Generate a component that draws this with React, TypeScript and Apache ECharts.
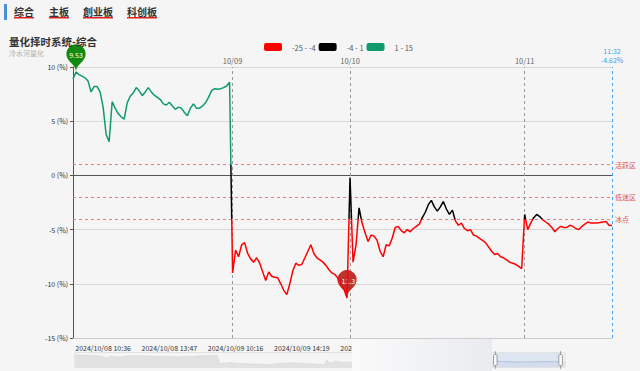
import React, { useEffect, useRef } from "react";
import * as echarts from "echarts";

// ---- data ----
const day1 = [8.9, 9.53, 9.3, 9.15, 9.0, 8.7, 7.7, 8.2, 8.2, 7.7, 6.3, 3.8, 3.1, 6.8, 6.2, 5.7, 5.4, 5.2, 6.7, 7.3, 7.6, 8.1, 7.8, 7.35, 7.7, 8.1, 7.7, 7.4, 7.2, 7.0, 6.6, 6.5, 6.75, 6.4, 6.1, 6.3, 6.2, 5.8, 5.5, 6.2, 6.6, 6.2, 6.2, 6.4, 6.7, 7.2, 7.8, 8.0, 7.95, 8.0, 8.1, 8.25, 8.6];
const day2 = [-9.0, -6.9, -7.5, -6.4, -6.2, -7.2, -7.7, -8.0, -7.6, -8.1, -8.9, -9.7, -8.9, -9.3, -9.4, -9.45, -10.0, -10.6, -11.0, -10.0, -8.8, -8.1, -8.3, -8.2, -7.6, -7.0, -6.4, -7.2, -7.6, -7.8, -8.0, -8.3, -8.7, -9.0, -9.15, -9.5, -10.0, -10.5, -11.3];
const day3 = [-0.2, -8.0, -6.4, -3.0, -4.4, -5.3, -6.1, -5.5, -5.6, -6.0, -7.0, -7.5, -6.4, -6.5, -5.8, -4.8, -4.7, -5.1, -5.3, -5.0, -5.2, -4.9, -4.7, -4.5, -3.9, -3.4, -2.7, -2.3, -2.9, -3.3, -2.9, -2.4, -3.1, -3.6, -3.2, -4.2, -4.6, -4.4, -4.9, -5.1, -5.0, -5.5, -5.6, -5.8, -6.0, -6.2, -6.6, -7.0, -7.3, -7.2, -7.5, -7.6, -7.8, -8.0, -8.1, -8.2, -8.4, -8.6];
const day4 = [-3.6, -5.0, -4.4, -3.9, -3.6, -3.8, -4.1, -4.3, -4.5, -4.8, -5.2, -4.9, -4.7, -4.8, -4.8, -4.6, -4.7, -4.9, -5.0, -4.7, -4.5, -4.3, -4.4, -4.4, -4.4, -4.35, -4.3, -4.25, -4.6, -4.62];

const dayDates = ["2024/10/08", "2024/10/09", "2024/10/10", "2024/10/11"];
const dayLabels = ["10/08", "10/09", "10/10", "10/11"];
const daySpans = [240, 240, 240, 122];
const dayLunch = [true, true, true, false];
const dayValues = [day1, day2, day3, day4];

const tabs = ["综合", "主板", "創业板", "科创板"];
const yTicks = [-15, -10, -5, 0, 5, 10];
const xTickLabels: Record<number, string> = {
  10: "2024/10/08 10:36",
  32: "2024/10/08 13:47",
  54: "2024/10/09 10:16",
  76: "2024/10/09 14:19",
};
const zones = [
  { value: 1, name: "活跃区" },
  { value: -2, name: "低迷区" },
  { value: -4, name: "冰点" },
];
const pieces = [
  { gte: -25, lt: -4, label: "-25 - -4", color: "#ff0000" },
  { gte: -4, lt: 1, label: "-4 - 1", color: "#000000" },
  { gte: 1, lte: 15, label: "1 - 15", color: "#0e9a6a" },
];

function pad(n: number) {
  return n < 10 ? "0" + n : "" + n;
}

const categories: string[] = [];
const values: number[] = [];
const dayStartIdx: number[] = [];
dayValues.forEach((vals, d) => {
  dayStartIdx.push(categories.length);
  vals.forEach((v, k) => {
    const off = Math.round((k * daySpans[d]) / (vals.length - 1));
    let t = 9 * 60 + 30 + off;
    if (dayLunch[d] && off > 120) t = 13 * 60 + (off - 120);
    categories.push(`${dayDates[d]} ${pad(Math.floor(t / 60))}:${pad(t % 60)}`);
    values.push(v);
  });
});
const lastIdx = values.length - 1;
const lastTime = categories[lastIdx].split(" ")[1];
const lastVal = values[lastIdx];

const FONT = "'Noto Sans CJK SC', 'Noto Sans', sans-serif";

export default function App() {
  const ref = useRef<HTMLDivElement>(null);
  useEffect(() => {
    document.body.style.margin = "0";
    const chart = echarts.init(ref.current!, undefined, { renderer: "svg" });

    const blueLine = { color: "#4aa3f5", type: [3, 3], width: 1 };
    const markLineData: any[] = [
      ...zones.map((z) => ({
        yAxis: z.value,
        lineStyle: { color: "#e57d7d", type: [3, 3], width: 1 },
        label: { show: true, position: "end", formatter: z.name, color: "#d9534f", fontSize: 7, distance: 3 },
      })),
      {
        yAxis: 0,
        lineStyle: { color: "#555", type: "solid", width: 1 },
        label: { show: false },
      },
      ...dayStartIdx.slice(1).map((idx, i) => ({
        xAxis: categories[idx],
        lineStyle: { color: "#999", type: [3, 3], width: 1 },
        label: { show: true, position: "end", formatter: dayLabels[i + 1], color: "#666", fontSize: 7.5, distance: 3 },
      })),
      {
        xAxis: categories[lastIdx],
        lineStyle: blueLine,
        label: { show: true, position: "end", formatter: lastTime, color: "#3d9cf0", fontSize: 7, lineHeight: 8, distance: 12 },
      },
      {
        xAxis: categories[lastIdx],
        lineStyle: blueLine,
        label: { show: true, position: "end", formatter: `${lastVal.toFixed(2)}%`, color: "#3d9cf0", fontSize: 7, lineHeight: 8, distance: 3 },
      },
    ];

    const tabGraphics: any[] = [];
    const tabX = [14, 49, 83, 127];
    tabs.forEach((t, i) => {
      tabGraphics.push({
        type: "text",
        left: tabX[i],
        top: 6,
        style: { text: t, fill: "#333", font: `bold 10px ${FONT}` },
      });
      tabGraphics.push({
        type: "rect",
        shape: { x: tabX[i], y: 17, width: t.length * 10, height: 1.5 },
        style: { fill: "#e02020" },
      });
    });

    chart.setOption({
      animation: false,
      backgroundColor: "#f5f5f5",
      textStyle: { fontFamily: FONT },
      title: {
        text: "量化择时系统-综合",
        subtext: "冷水河量化",
        left: 4,
        top: 31,
        itemGap: 3,
        textStyle: { fontSize: 10.5, fontWeight: "bold", color: "#333", fontFamily: FONT },
        subtextStyle: { fontSize: 7, color: "#b0b0b0", fontFamily: FONT },
      },
      graphic: [
        { type: "rect", shape: { x: 4, y: 4, width: 3, height: 16 }, style: { fill: "#4a8fd8" } },
        ...tabGraphics,
        {
          type: "rect",
          z: 100,
          shape: { x: 352, y: 339, width: 140, height: 32 },
          style: {
            fill: new echarts.graphic.LinearGradient(0, 0, 1, 0, [
              { offset: 0, color: "#fafafa" },
              { offset: 1, color: "#e9ebef" },
            ]),
          },
        },
      ],
      visualMap: {
        type: "piecewise",
        seriesIndex: 0,
        dimension: 1,
        orient: "horizontal",
        left: 249,
        top: 28,
        itemWidth: 18,
        itemHeight: 8,
        itemGap: 3,
        textGap: 10,
        itemSymbol: "roundRect",
        textStyle: { fontSize: 7.5, color: "#555" },
        pieces,
      },
      grid: { left: 73, right: 28, top: 67, bottom: 33 },
      xAxis: [
        {
          type: "category",
          data: categories,
          boundaryGap: false,
          axisLine: { onZero: false, lineStyle: { color: "#ccc" } },
          axisTick: { show: false },
          splitLine: { show: false },
          axisLabel: {
            color: "#333",
            fontSize: 7,
            margin: 6,
            hideOverlap: false,
            interval: (i: number) => i >= 10 && i <= 98 && (i - 10) % 22 === 0,
            formatter: (v: string, i: number) => xTickLabels[i] ?? v,
          },
        },
        { type: "category", data: categories, show: false, boundaryGap: false },
      ],
      yAxis: {
        type: "value",
        min: yTicks[0],
        max: yTicks[yTicks.length - 1],
        interval: 5,
        axisLine: { show: true, lineStyle: { color: "#555" } },
        axisTick: { show: true, length: 3 },
        axisLabel: { color: "#333", fontSize: 7, margin: 5, formatter: (v: number) => `${v} (%)` },
        splitLine: { lineStyle: { color: "#d8d8d8" } },
      },
      dataZoom: [
        {
          type: "slider",
          xAxisIndex: 1,
          left: 72,
          right: 77,
          top: 352,
          height: 16,
          start: 85.5,
          end: 99.2,
          showDetail: false,
          brushSelect: false,
          moveHandleSize: 0,
          borderColor: "#e2e2e2",
          backgroundColor: "rgba(0,0,0,0)",
          fillerColor: "rgba(170,195,235,0.3)",
          handleSize: "110%",
          handleStyle: { color: "#fff", borderColor: "#999" },
          dataBackground: {
            lineStyle: { color: "#d0d0d0", width: 0.5 },
            areaStyle: { color: "#e2e2e2", opacity: 1 },
          },
        },
      ],
      series: [
        {
          type: "line",
          data: values,
          symbol: "none",
          lineStyle: { width: 1.5 },
          z: 5,
          markPoint: {
            symbol: "pin",
            symbolSize: 32,
            label: { fontSize: 7, color: "#fff" },
            data: [
              { type: "max", itemStyle: { color: "#128a12" }, label: { formatter: (p: any) => String(p.value) } },
              { type: "min", itemStyle: { color: "#c0302c" }, label: { formatter: (p: any) => String(p.value) } },
            ],
          },
          markLine: { silent: true, symbol: "none", data: markLineData },
        },
        {
          type: "line",
          xAxisIndex: 1,
          data: values,
          symbol: "none",
          silent: true,
          lineStyle: { opacity: 0 },
          itemStyle: { opacity: 0 },
        },
      ],
    });
    return () => chart.dispose();
  }, []);
  return <div ref={ref} style={{ position: "fixed", left: 0, top: 0, width: 640, height: 371 }} />;
}
